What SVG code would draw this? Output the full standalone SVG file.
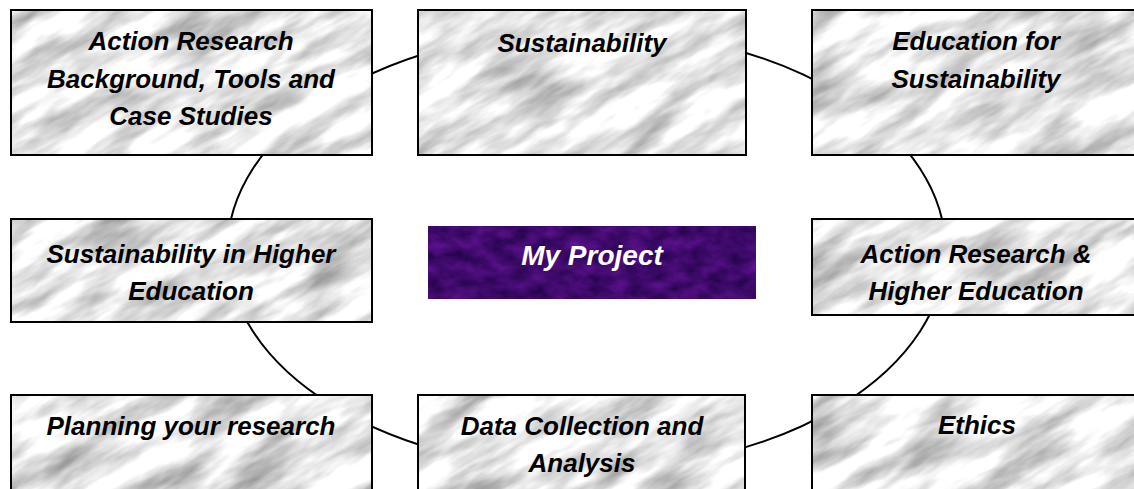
<svg xmlns="http://www.w3.org/2000/svg" width="1134" height="489" viewBox="0 0 1134 489">
  <defs>
    <filter id="marbleF" x="0" y="0" width="1" height="1" color-interpolation-filters="sRGB">
      <feTurbulence type="fractalNoise" baseFrequency="0.012 0.045" numOctaves="4" seed="7" result="n"/>
      <feColorMatrix in="n" type="matrix" values="-0.8 0 0 0 1.3  -0.8 0 0 0 1.3  -0.8 0 0 0 1.3  0 0 0 0 1"/>
    </filter>
    <filter id="purpleF" x="0" y="0" width="1" height="1" color-interpolation-filters="sRGB">
      <feTurbulence type="fractalNoise" baseFrequency="0.05 0.08" numOctaves="3" seed="2" result="n"/>
      <feColorMatrix in="n" type="matrix" values="0.3 0 0 0 0.1  0.08 0 0 0 0.0  0.35 0 0 0 0.25  0 0 0 0 1"/>
    </filter>
    <pattern id="marble" patternUnits="userSpaceOnUse" x="-300" y="-50" width="1400" height="1100" patternTransform="rotate(-30)">
      <rect x="0" y="0" width="1400" height="1100" filter="url(#marbleF)"/>
    </pattern>
    <pattern id="purple" patternUnits="userSpaceOnUse" x="428" y="226" width="328" height="73">
      <rect width="328" height="73" filter="url(#purpleF)"/>
    </pattern>
  </defs>
  <style>
    .box { fill: url(#marble); stroke: #000; stroke-width: 2; }
    .lbl { font-family: "Liberation Sans", Arial, sans-serif; font-size: 26px; font-weight: bold; font-style: italic; fill: #000; text-anchor: middle; }
    .main { font-family: "Liberation Sans", Arial, sans-serif; font-size: 28px; font-weight: bold; font-style: italic; fill: #fff; text-anchor: middle; }
    .ring { fill: none; stroke: #000; stroke-width: 2; }
  </style>
  <rect width="1134" height="489" fill="#fff"/>
  <g id="connectors">
    <ellipse class="ring" cx="586.5" cy="250" rx="359" ry="220"/>
  </g>
  <g id="node-action-research-background">
    <rect class="box" x="11" y="10" width="361" height="145"/>
    <text class="lbl" x="191" y="50">Action Research</text>
    <text class="lbl" x="191" y="87.5">Background, Tools and</text>
    <text class="lbl" x="191" y="125">Case Studies</text>
  </g>
  <g id="node-sustainability">
    <rect class="box" x="418" y="10" width="328" height="145"/>
    <text class="lbl" x="582" y="52">Sustainability</text>
  </g>
  <g id="node-education-for-sustainability">
    <rect class="box" x="812" y="10" width="330" height="145"/>
    <text class="lbl" x="976" y="50">Education for</text>
    <text class="lbl" x="976" y="87.5">Sustainability</text>
  </g>
  <g id="node-sustainability-higher-education">
    <rect class="box" x="11" y="219" width="361" height="103"/>
    <text class="lbl" x="191" y="263">Sustainability in Higher</text>
    <text class="lbl" x="191" y="300">Education</text>
  </g>
  <g id="node-my-project">
    <rect x="428" y="226" width="328" height="73" fill="url(#purple)"/>
    <text class="main" x="592" y="265">My Project</text>
  </g>
  <g id="node-action-research-higher-education">
    <rect class="box" x="812" y="219" width="330" height="96"/>
    <text class="lbl" x="976" y="263">Action Research &amp;</text>
    <text class="lbl" x="976" y="300">Higher Education</text>
  </g>
  <g id="node-planning">
    <rect class="box" x="11" y="395" width="361" height="110"/>
    <text class="lbl" x="191" y="435">Planning your research</text>
  </g>
  <g id="node-data-collection">
    <rect class="box" x="418" y="395" width="327" height="110"/>
    <text class="lbl" x="582" y="435">Data Collection and</text>
    <text class="lbl" x="582" y="472">Analysis</text>
  </g>
  <g id="node-ethics">
    <rect class="box" x="812" y="395" width="330" height="110"/>
    <text class="lbl" x="977" y="434">Ethics</text>
  </g>
</svg>
